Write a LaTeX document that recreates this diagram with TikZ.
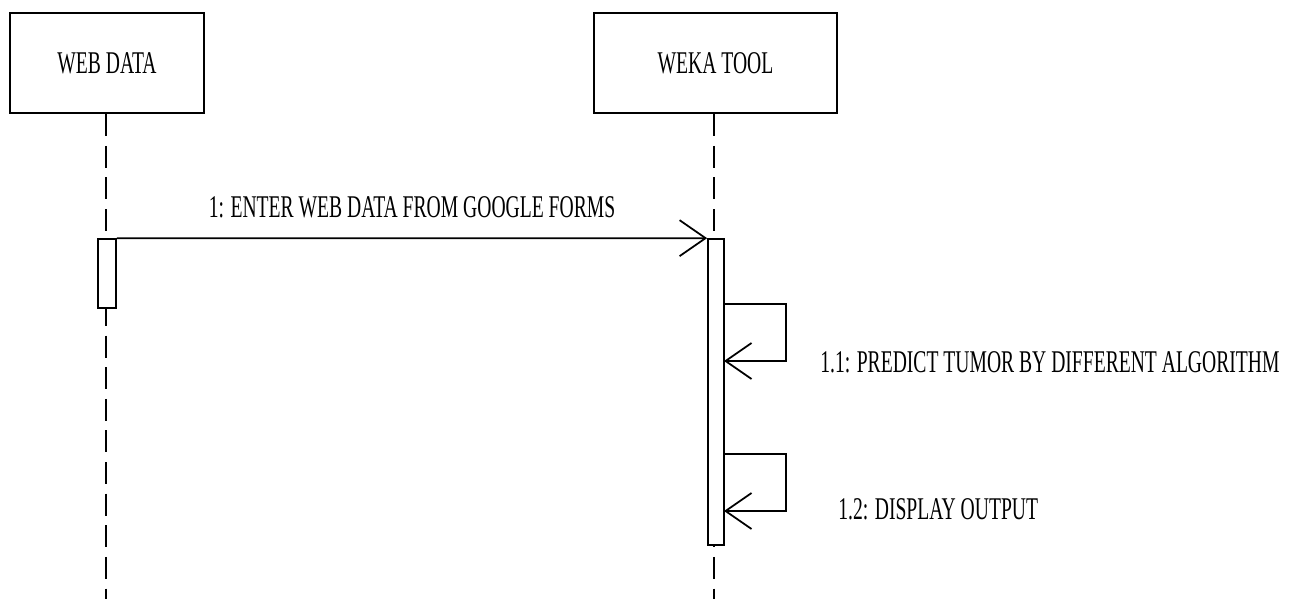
\documentclass[tikz,border=0pt]{standalone}
\usepackage{fontspec}
\setmainfont{Liberation Serif}[FakeStretch=0.62]
\usetikzlibrary{arrows.meta,positioning}

\tikzset{
  actor/.style={draw,line width=1.4pt,minimum height=2cm,inner sep=0pt,font=\fontsize{18}{21}\selectfont},
  lifeline/.style={line width=1pt,dash pattern=on 12.5pt off 5.5pt},
  actbox/.style={draw,line width=1pt,fill=white,inner sep=0pt},
  msg/.style={line width=1pt,-{Straight Barb[length=0.52cm,width=0.72cm,line width=1pt]}},
  msglabel/.style={font=\fontsize{18}{21}\selectfont,inner sep=0pt}
}

\begin{document}
\begin{tikzpicture}[x=0.02cm,y=-0.02cm]
  \useasboundingbox (0,0) rectangle (1289,599);
  % objects
  \node[actor,minimum width=3.88cm] (webdata) at (107,63) {WEB DATA};
  \node[actor,minimum width=4.86cm] (wekatool) at (715.5,63) {WEKA TOOL};
  % lifelines
  \coordinate (webend) at (106,599);
  \coordinate (wekaend) at (714,599);
  \draw[lifeline] (webdata.south -| webend) -- (webend);
  \draw[lifeline] (wekatool.south -| wekaend) -- (wekaend);
  % activations
  \node[actbox,minimum width=0.36cm,minimum height=1.38cm] (webact) at (107,273.5) {};
  \node[actbox,minimum width=0.32cm,minimum height=6.12cm] (wekaact) at (716,392) {};
  % message 1
  \draw[msg] (webact.north east) -- (wekaact.north west)
    node[msglabel,midway,above=0.38cm] (entermsg) {1: ENTER WEB DATA FROM GOOGLE FORMS};
  % self messages
  \coordinate (predout) at (724,304);
  \coordinate (predin) at (724,361);
  \draw[msg] (predout) -- ++(62,0) |- (predin);
  \node[msglabel,anchor=west] (predlbl) at (820,362) {1.1: PREDICT TUMOR BY DIFFERENT ALGORITHM};
  \coordinate (dispout) at (724,454);
  \coordinate (dispin) at (724,511);
  \draw[msg] (dispout) -- ++(62,0) |- (dispin);
  \node[msglabel,anchor=west] (displbl) at (838,509) {1.2: DISPLAY OUTPUT};
\end{tikzpicture}
\end{document}
